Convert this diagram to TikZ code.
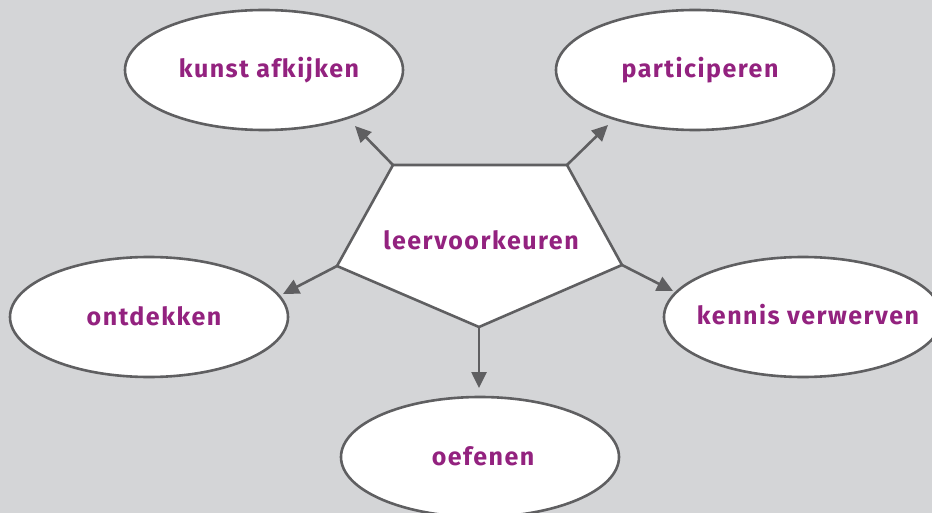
\documentclass[tikz,border=0pt]{standalone}
\usepackage{fontspec}
\setmainfont{Fira Sans}
\usetikzlibrary{shapes.geometric,arrows.meta}
\definecolor{bg}{HTML}{D4D5D7}
\definecolor{ln}{HTML}{5F5F61}
\definecolor{pur}{HTML}{93227F}
\tikzset{
  oval/.style={ellipse,draw=ln,line width=2.6pt,fill=white,minimum width=278pt,minimum height=120pt,inner sep=0pt},
  lbl/.style={text=pur,font=\fontsize{25}{29}\selectfont\bfseries\addfontfeatures{LetterSpace=6}},
  conn/.style={draw=ln,line width=2.6pt,-{Triangle[length=16pt,width=15pt]}},
}
\begin{document}
\begin{tikzpicture}[x=1pt,y=-1pt]
\fill[bg] (0,0) rectangle (932,513);
\useasboundingbox (0,0) rectangle (932,513);
\node[oval] (ka) at (264,70) {};
\node[lbl] at (269,70) {kunst afkijken};
\node[oval] (pa) at (695,70) {};
\node[lbl] at (700,70) {participeren};
\node[oval] (on) at (149,317) {};
\node[lbl] at (154,316) {ontdekken};
\node[oval] (ke) at (803,317) {};
\node[lbl] at (808,315) {kennis verwerven};
\node[oval] (oe) at (480,457) {};
\node[lbl] at (483,456) {oefenen};
\coordinate (p1) at (393,165);
\coordinate (p2) at (567,165);
\coordinate (p3) at (622,265);
\coordinate (p4) at (479,327);
\coordinate (p5) at (337,266);
\filldraw[fill=white,draw=ln,line width=2.6pt,line join=miter] (p1) -- (p2) -- (p3) -- (p4) -- (p5) -- cycle;
\node[lbl] (lv) at (481,240) {leervoorkeuren};
\coordinate (e1) at (355,126);
\coordinate (e2) at (608,125);
\coordinate (e3) at (283,294);
\coordinate (e4) at (673,291);
\coordinate (e5) at (479,388);
\draw[conn] (p1) -- (e1);
\draw[conn] (p2) -- (e2);
\draw[conn] (p5) -- (e3);
\draw[conn] (p3) -- (e4);
\draw[conn] (p4) -- (e5);
\end{tikzpicture}
\end{document}
